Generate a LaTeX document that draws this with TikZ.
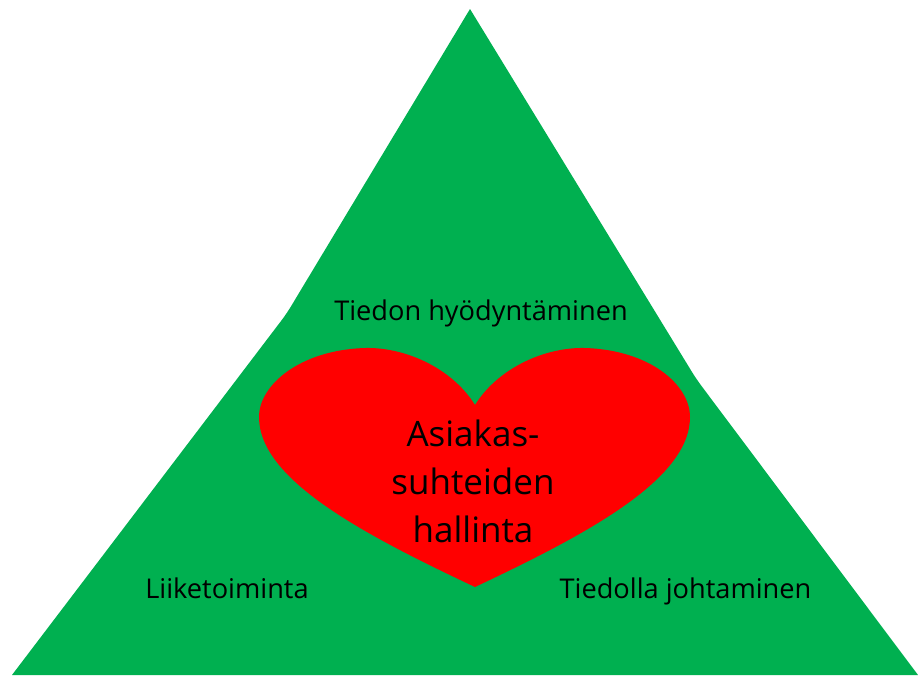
\documentclass[tikz,border=0pt]{standalone}
\usepackage{fontspec}
\setmainfont{Open Sans}
\definecolor{grn}{RGB}{0,176,80}
\definecolor{rd}{RGB}{255,0,0}
\begin{document}
\begin{tikzpicture}[x=1pt,y=-1pt,
lbl/.style={font=\fontsize{27.2}{32}\selectfont,text=black,inner sep=0pt,anchor=base},
big/.style={font=\fontsize{35}{48}\selectfont,text=black,inner sep=0pt,align=center}]
\useasboundingbox (0,0) rectangle (918,675);
\fill[grn] (470,9) -- (692,372) .. controls (697,380) and (700,384) .. (706,392) -- (918,675) -- (12,675) -- (278,325) .. controls (285,316) and (289,310) .. (296,298) -- cycle;
\fill[rd] (475,405) .. controls (498,368) and (545,347) .. (585,348)
 .. controls (650,350) and (690,385) .. (690,417)
 .. controls (690,480) and (585,535) .. (475,587)
 .. controls (365,535) and (259,480) .. (259,417)
 .. controls (259,385) and (300,350) .. (365,348)
 .. controls (405,347) and (452,368) .. (475,405) -- cycle;
\node[lbl] (a) at (481,320) {Tiedon hyödyntäminen};
\node[lbl] (b) at (227,598) {Liiketoiminta};
\node[lbl] (c) at (685.5,598) {Tiedolla johtaminen};
\node[big] (d) at (473,481) {Asiakas-\\suhteiden\\hallinta};
\end{tikzpicture}
\end{document}
